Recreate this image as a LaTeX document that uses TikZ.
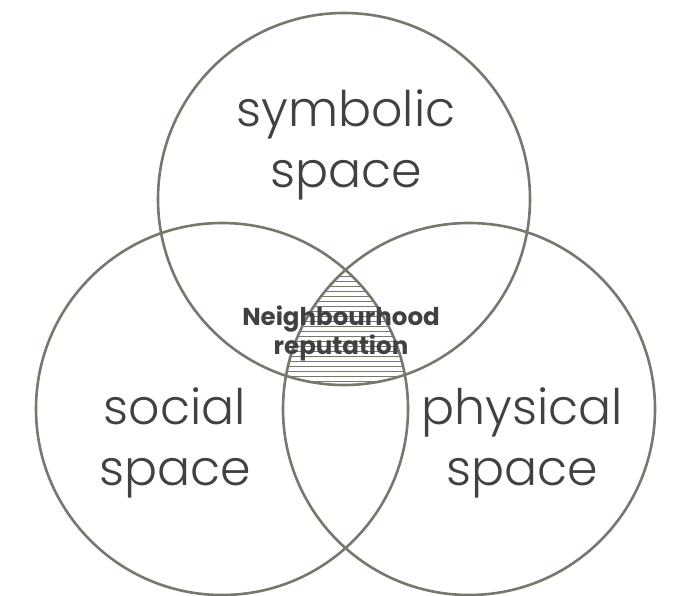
\documentclass[tikz,border=0pt]{standalone}
\usepackage{fontspec}
\setmainfont{Poppins}[UprightFont=* Light, BoldFont=* Bold]
\definecolor{ringgray}{HTML}{77776E}
\definecolor{textgray}{HTML}{414141}
\begin{document}
\begin{tikzpicture}[x=1pt, y=-1pt,
  spacering/.style={draw=ringgray, line width=2.6pt},
  spacelabel/.style={text=textgray, align=center, font=\fontsize{49}{61}\selectfont},
  reputationlabel/.style={text=textgray, align=center, font=\fontsize{24.5}{29}\selectfont\bfseries}]
\useasboundingbox (0,0) rectangle (675,596);
% hatched core where all three spaces meet
\begin{scope}
  \clip (344,199) circle[radius=186pt];
  \clip (222,409) circle[radius=186pt];
  \clip (469,409) circle[radius=186pt];
  \foreach \y in {266,271,...,391}
    \draw[ringgray, line width=0.9pt] (250,\y) -- (440,\y);
\end{scope}
% the three spaces
\draw[spacering] (344,199) circle[radius=186pt];
\draw[spacering] (222,409) circle[radius=186pt];
\draw[spacering] (469,409) circle[radius=186pt];
% labels
\node[spacelabel] (symbolic) at (346,145) {symbolic\\space};
\node[spacelabel] (social) at (175,443) {social\\space};
\node[spacelabel] (physical) at (522,443) {physical\\space};
\node[reputationlabel] (reputation) at (341,333) {Neighbourhood\\reputation};
\end{tikzpicture}
\end{document}
